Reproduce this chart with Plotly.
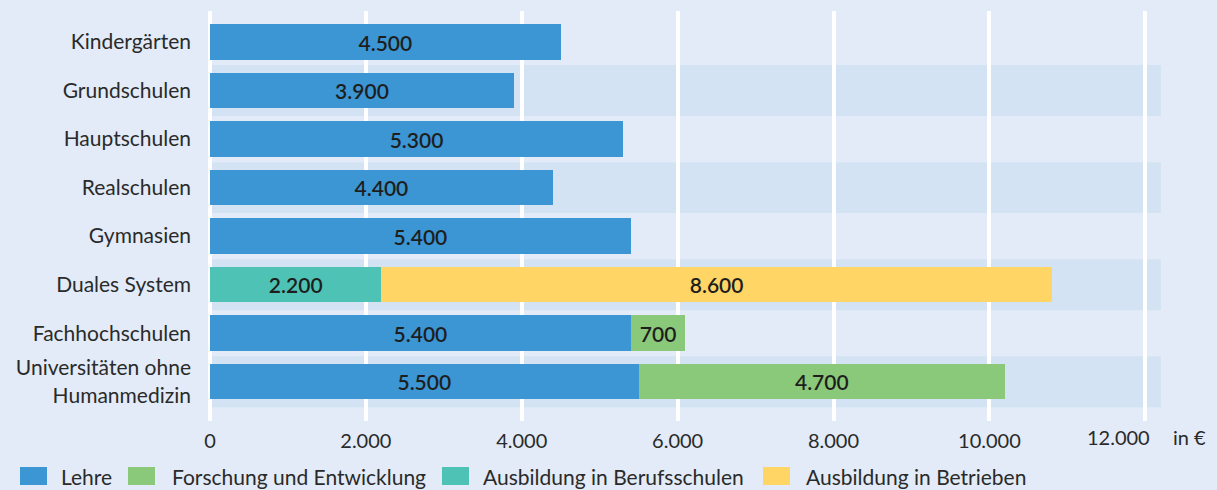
import plotly.graph_objects as go

# ---------------- data ----------------
categories = ["Kindergärten", "Grundschulen", "Hauptschulen", "Realschulen",
              "Gymnasien", "Duales System", "Fachhochschulen",
              "Universitäten ohne<br>Humanmedizin"]
lehre = [4500, 3900, 5300, 4400, 5400, None, 5400, 5500]
forschung = [None, None, None, None, None, None, 700, 4700]
berufsschulen = [None, None, None, None, None, 2200, None, None]
betriebe = [None, None, None, None, None, 8600, None, None]
series_names = ["Lehre", "Forschung und Entwicklung",
                "Ausbildung in Berufsschulen", "Ausbildung in Betrieben"]
tick_values = [0, 2000, 4000, 6000, 8000, 10000, 12000]
unit_label = "in €"

# ---------------- style ----------------
colors = ["#3b96d3", "#8bc97a", "#4ec2b4", "#ffd566"]
BG = "#e2ebf7"
STRIPE = "#d3e3f3"
TXT = "#2a2a2a"
FONT = "Lato"

W, H = 1217, 490
ML, MR, MT, MB = 206, 52, 11, 69
PW, PH = W - ML - MR, H - MT - MB


def px(x):
    return (x - ML) / PW


def py(y):
    return (H - MB - y) / PH


fig = go.Figure()
for name, vals, col in zip(series_names, [lehre, forschung, berufsschulen, betriebe], colors):
    fig.add_trace(go.Bar(
        y=categories, x=vals, name=name, orientation="h",
        marker=dict(color=col, line=dict(width=0)),
        width=0.73,
        texttemplate="%{x:,.0f}",
        textposition="inside", insidetextanchor="middle",
        textangle=0, constraintext="none",
        insidetextfont=dict(family=FONT, size=21, color="#1e1e1e", weight=600),
        showlegend=False, hoverinfo="skip",
    ))

shapes = []
# alternating stripes (every second row)
for i, c in enumerate(categories):
    if i % 2 == 1:
        shapes.append(dict(type="rect", xref="x", yref="y",
                           x0=0, x1=12200, y0=i - 0.525, y1=i + 0.525,
                           fillcolor=STRIPE, line=dict(width=0), layer="below"))

annotations = []
# custom legend
legend_px = [(20, 59), (128, 170), (442, 481), (763, 804)]
for (rx, tx), name, col in zip(legend_px, series_names, colors):
    shapes.append(dict(type="rect", xref="paper", yref="paper",
                       x0=px(rx), x1=px(rx + 27), y0=py(485), y1=py(467),
                       fillcolor=col, line=dict(width=0)))
    annotations.append(dict(xref="paper", yref="paper", x=px(tx), y=py(476),
                            text=name, showarrow=False, xanchor="left", yanchor="middle",
                            font=dict(family=FONT, size=21, color=TXT)))

# last tick label shifted left to make room for unit
annotations.append(dict(xref="x", yref="paper", x=tick_values[-1], y=py(437),
                        text=f"{tick_values[-1]:,}".replace(",", "."), showarrow=False,
                        xanchor="center", yanchor="middle", xshift=-27,
                        font=dict(family=FONT, size=20, color=TXT)))
annotations.append(dict(xref="paper", yref="paper", x=px(1171), y=py(437),
                        text=unit_label, showarrow=False, xanchor="left", yanchor="middle",
                        font=dict(family=FONT, size=20, color=TXT)))

ticktext = [f"{v:,}".replace(",", ".") for v in tick_values[:-1]] + [""]

fig.update_layout(
    width=W, height=H,
    margin=dict(l=ML, r=MR, t=MT, b=MB, pad=0),
    paper_bgcolor=BG, plot_bgcolor=BG,
    barmode="stack", bargap=0.27,
    separators=",.",
    font=dict(family=FONT, color=TXT),
    shapes=shapes, annotations=annotations,
    showlegend=False,
    xaxis=dict(range=[-51, 12253], tickvals=tick_values, ticktext=ticktext,
               showgrid=True, gridcolor="white", gridwidth=4,
               zeroline=True, zerolinecolor="white", zerolinewidth=4,
               showline=False, ticks="", ticklabelstandoff=6,
               tickfont=dict(family=FONT, size=20, color=TXT)),
    yaxis=dict(range=[7.81, -0.64], type="category", showgrid=False,
               zeroline=False, showline=False, ticks="", ticklabelstandoff=14,
               tickfont=dict(family=FONT, size=21, color=TXT)),
)

fig.write_html("out.html", config={"displayModeBar": False},
               post_script="document.body.style.margin='0';document.body.style.background='%s';" % BG)
